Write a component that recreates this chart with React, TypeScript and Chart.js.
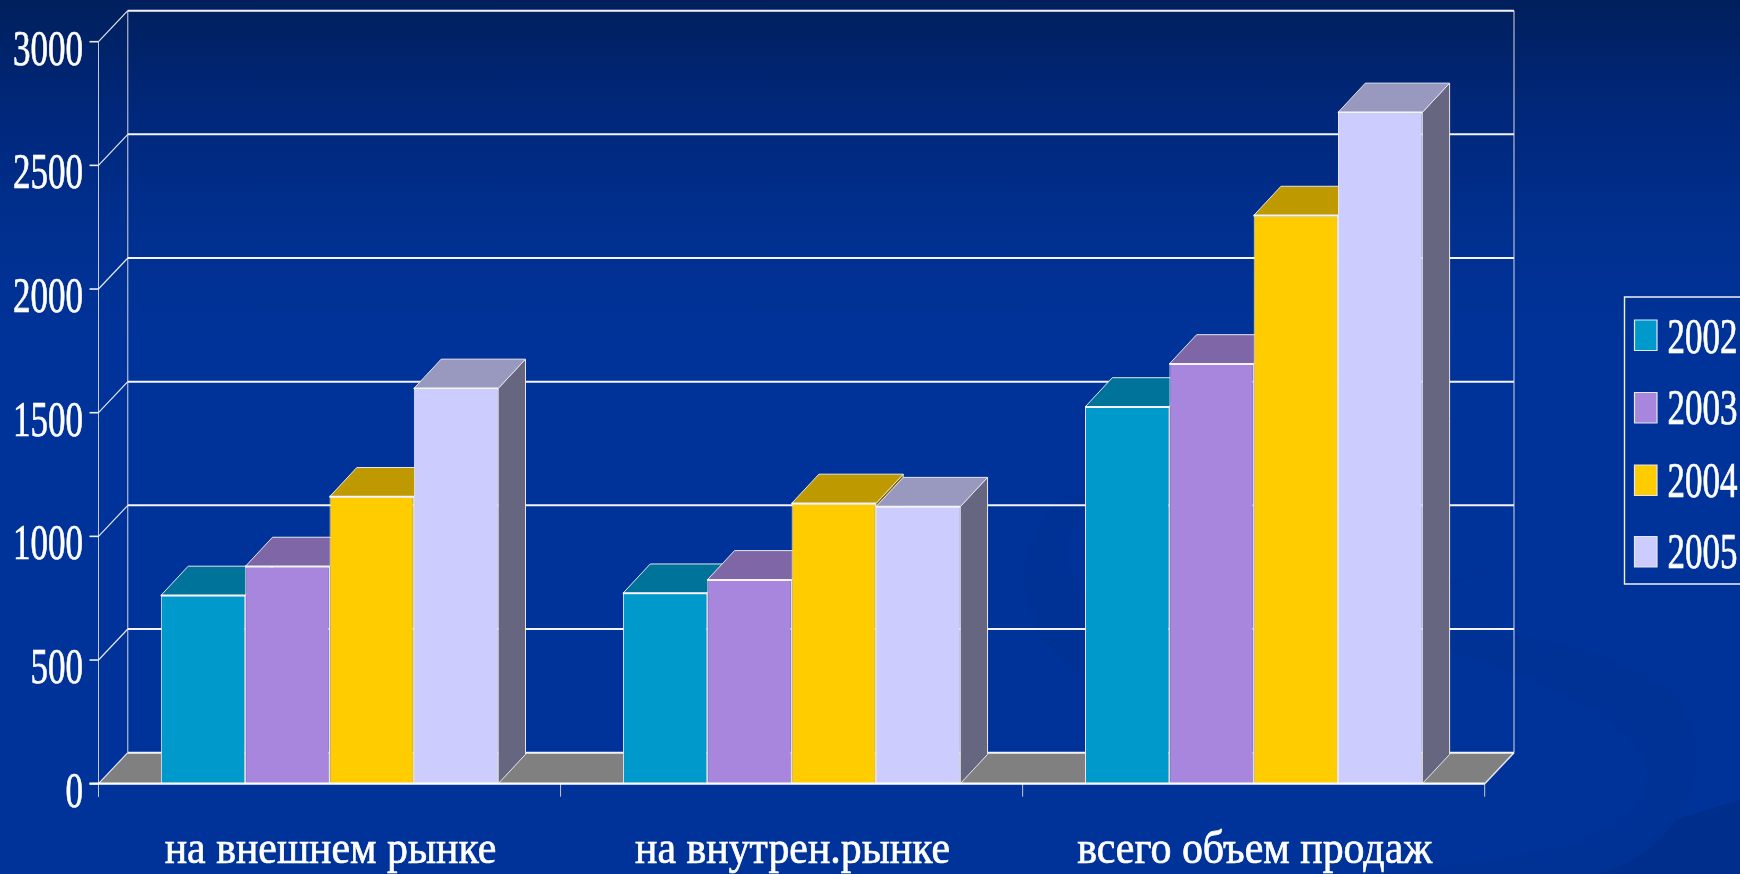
import React, { useEffect, useRef } from "react";
import { Chart, registerables } from "chart.js";

Chart.register(...registerables);

const categories = ["на внешнем рынке", "на внутрен.рынке", "всего объем продаж"];
const seriesNames = ["2002", "2003", "2004", "2005"];
const values2002 = [761, 770, 1523];
const values2003 = [878, 824, 1697];
const values2004 = [1160, 1133, 2297];
const values2005 = [1598, 1120, 2714];
const fronts = ["#0099CC", "#A886DE", "#FFCC00", "#CCCCFF"];
const tops = ["#00739A", "#7F66A7", "#BF9900", "#9999C0"];
const sides = ["#004D66", "#544370", "#806600", "#666680"];
const yMax = 3000;
const yStep = 500;

const SERIF = '"Liberation Serif", "Times New Roman", serif';
const WALL_DX = 29.3;
const WALL_DY = 31;
const BAR_DX = 27.3;
const BAR_DY = 29.3;

function squeezedText(ctx: CanvasRenderingContext2D, text: string, x: number, y: number, size: number, sx: number, align: CanvasTextAlign) {
  ctx.save();
  ctx.translate(x, y);
  ctx.scale(sx, 1);
  ctx.font = `${size}px ${SERIF}`;
  ctx.fillStyle = "#ffffff";
  ctx.strokeStyle = "#ffffff";
  ctx.lineWidth = 0.7;
  ctx.textAlign = align;
  ctx.textBaseline = "alphabetic";
  ctx.fillText(text, 0, 0);
  ctx.strokeText(text, 0, 0);
  ctx.restore();
}

function poly(ctx: CanvasRenderingContext2D, pts: number[][], fill: string, stroke?: string, lw = 1) {
  ctx.beginPath();
  pts.forEach((p, i) => (i ? ctx.lineTo(p[0], p[1]) : ctx.moveTo(p[0], p[1])));
  ctx.closePath();
  ctx.fillStyle = fill;
  ctx.fill();
  if (stroke) {
    ctx.strokeStyle = stroke;
    ctx.lineWidth = lw;
    ctx.stroke();
  }
}

function line(ctx: CanvasRenderingContext2D, x1: number, y1: number, x2: number, y2: number, color: string, lw: number) {
  ctx.beginPath();
  ctx.moveTo(x1, y1);
  ctx.lineTo(x2, y2);
  ctx.strokeStyle = color;
  ctx.lineWidth = lw;
  ctx.stroke();
}

const box3d = {
  id: "box3d",
  beforeDatasetsDraw(chart: any) {
    const { ctx, chartArea: a, scales } = chart;
    const y = scales.y;
    ctx.save();
    // floor
    poly(ctx, [[a.left, a.bottom], [a.left + WALL_DX, a.bottom - WALL_DY], [a.right + WALL_DX, a.bottom - WALL_DY], [a.right, a.bottom]], "#808080");
    // walls
    line(ctx, a.left + WALL_DX, a.top - WALL_DY, a.left + WALL_DX, a.bottom - WALL_DY, "#d8d8e0", 1);
    line(ctx, a.right + WALL_DX, a.top - WALL_DY, a.right + WALL_DX, a.bottom - WALL_DY, "#d8d8e0", 1);
    line(ctx, a.left, a.top, a.left, a.bottom + 13, "#c8c8d0", 1);
    line(ctx, a.right + WALL_DX, a.bottom - WALL_DY, a.right, a.bottom, "#e8e8e8", 1.5);
    y.ticks.forEach((t: any) => {
      const py = y.getPixelForValue(t.value);
      line(ctx, a.left + WALL_DX, py - WALL_DY, a.right + WALL_DX, py - WALL_DY, "#f4f4f8", 2);
      line(ctx, a.left, py, a.left + WALL_DX, py - WALL_DY, "#e8e8ee", 1.2);
      line(ctx, a.left - 9, py, a.left, py, "#f0f0f4", 1.6);
    });
    // category ticks
    const cats = scales.x;
    for (let i = 0; i <= categories.length; i++) {
      const px = i < categories.length ? cats.getPixelForValue(i) - cats.width / categories.length / 2 : a.right;
      line(ctx, px, a.bottom, px, a.bottom + 13, "#c8c8d0", 1);
    }
    // bar depth faces, left to right
    chart.data.labels.forEach((_: string, j: number) => {
      chart.data.datasets.forEach((_d: any, i: number) => {
        const b = chart.getDatasetMeta(i).data[j];
        const l = b.x - b.width / 2;
        const r = b.x + b.width / 2;
        poly(ctx, [[r, b.y], [r + BAR_DX, b.y - BAR_DY], [r + BAR_DX, b.base - BAR_DY], [r, b.base]], sides[i], "#e6e6ec", 1);
        poly(ctx, [[l, b.y], [l + BAR_DX, b.y - BAR_DY], [r + BAR_DX, b.y - BAR_DY], [r, b.y]], tops[i], "#e6e6ec", 1);
      });
    });
    ctx.restore();
  },
  afterDatasetsDraw(chart: any) {
    const { ctx, chartArea: a, scales } = chart;
    ctx.save();
    chart.data.datasets.forEach((_d: any, i: number) => {
      chart.getDatasetMeta(i).data.forEach((b: any) => {
        line(ctx, b.x - b.width / 2, b.y, b.x + b.width / 2, b.y, "#f4f4f8", 2);
      });
    });
    line(ctx, a.left - 9, a.bottom, a.right, a.bottom, "#ffffff", 2.2);
    const y = scales.y;
    y.ticks.forEach((t: any) => {
      squeezedText(ctx, t.label, a.left - 15.5, y.getPixelForValue(t.value) + 23, 50, 0.7, "right");
    });
    const x = scales.x;
    chart.data.labels.forEach((label: string, i: number) => {
      squeezedText(ctx, label, x.getPixelForValue(i) + 1, a.bottom + 79, 46, 0.91, "center");
    });
    // legend
    poly(ctx, [[1624.5, 297], [1760, 297], [1760, 584], [1624.5, 584]], "rgba(0,0,0,0)", "#f0f0f4", 1.4);
    const tops2 = [320, 392.5, 465, 536.5];
    const baselines = [352.5, 424, 496.5, 568];
    chart.data.datasets.forEach((d: any, i: number) => {
      poly(ctx, [[1634.5, tops2[i]], [1657, tops2[i]], [1657, tops2[i] + 30.5], [1634.5, tops2[i] + 30.5]], d.backgroundColor, "#e6e6f0", 1.2);
      squeezedText(ctx, d.label, 1667.5, baselines[i], 50, 0.7, "left");
    });
    ctx.restore();
  },
};

export default function App() {
  const ref = useRef<HTMLCanvasElement>(null);
  useEffect(() => {
    document.body.style.margin = "0";
    const allValues = [values2002, values2003, values2004, values2005];
    const chart = new Chart(ref.current!, {
      type: "bar",
      data: {
        labels: categories,
        datasets: seriesNames.map((name, i) => ({
          label: name,
          data: allValues[i],
          backgroundColor: fronts[i],
          borderColor: "#e6e6ec",
          borderWidth: 1,
          categoryPercentage: 0.73,
          barPercentage: 1,
        })),
      },
      options: {
        animation: false,
        responsive: false,
        layout: { padding: { left: 98.5, right: 255.3, top: 41.7, bottom: 90.3 } },
        plugins: { legend: { display: false }, tooltip: { enabled: false }, title: { display: false } },
        scales: {
          x: { grid: { display: false, drawTicks: false, tickLength: 0 }, border: { display: false }, ticks: { display: false, padding: 0 } },
          y: {
            min: 0,
            max: yMax,
            grid: { display: false, drawTicks: false, tickLength: 0 },
            border: { display: false },
            ticks: { display: false, padding: 0, stepSize: yStep, callback: (v: number) => String(v) },
          },
        },
      },
      plugins: [box3d],
    } as any);
    return () => chart.destroy();
  }, []);
  return (
    <div
      style={{
        position: "fixed",
        left: 0,
        top: 0,
        width: 1740,
        height: 874,
        overflow: "hidden",
        background: "linear-gradient(180deg,#001F5C 0px,#00277A 110px,#002F8E 220px,#003399 340px,#003399 874px)",
      }}
    >
      <svg width={1740} height={874} style={{ position: "absolute", left: 0, top: 0 }}>
        <path d="M1740 800 C1640 830 1540 860 1440 874 L1740 874 Z" fill="#002E8C" />
        <path d="M1060 500 C1000 560 1020 640 1090 680 C1200 740 1350 610 1520 560 C1400 590 1200 690 1120 630 C1050 580 1060 530 1100 490 Z" fill="#003195" />
        <path d="M1330 620 C1470 650 1690 720 1640 800 C1600 850 1500 860 1380 874 L1600 874 C1680 850 1720 770 1680 700 C1640 650 1480 620 1330 620 Z" fill="#003195" />
      </svg>
      <canvas ref={ref} width={1740} height={874} style={{ position: "absolute", left: 0, top: 0, width: 1740, height: 874 }} />
    </div>
  );
}
